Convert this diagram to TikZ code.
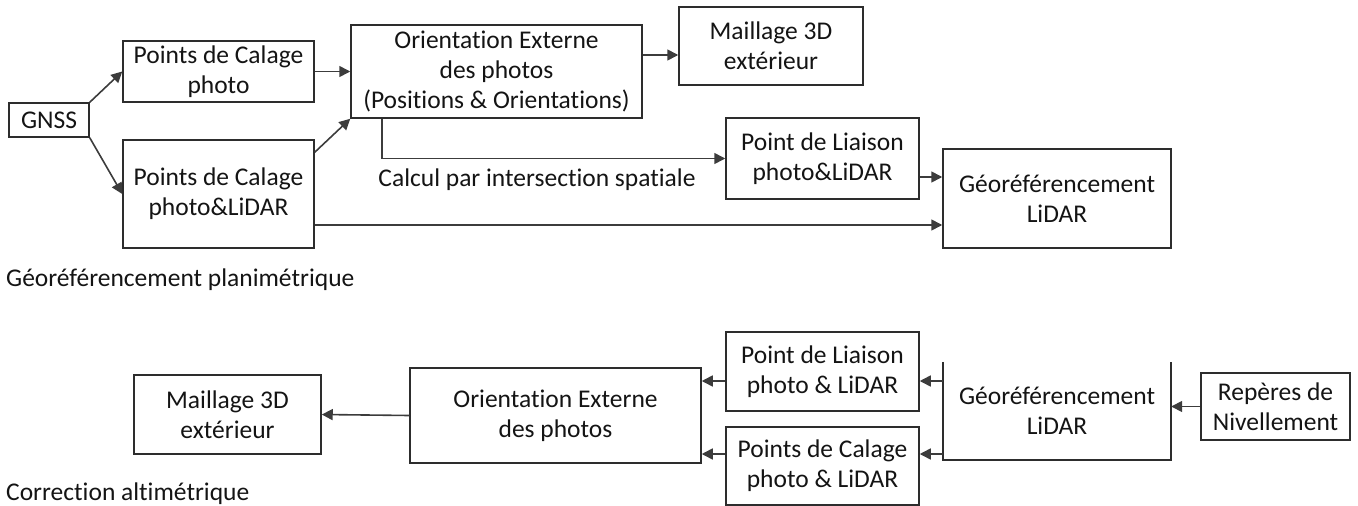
\documentclass[tikz,border=0pt]{standalone}
\usepackage{fontspec}
\setmainfont{Carlito}[Ligatures=NoCommon]
\usepackage{tikz}
\usetikzlibrary{arrows.meta}

\begin{document}
\begin{tikzpicture}[x=1pt,y=-1pt,
  box/.style={draw=boxColor,line width=1.5pt,align=center,inner sep=0pt,text=txtColor,font=\fontsize{25.5}{30}\selectfont},
  lbl/.style={inner sep=0pt,text=txtColor,font=\fontsize{25.5}{30}\selectfont},
  lien/.style={draw=lineColor,line width=1.6pt,-{Triangle[length=11pt,width=11pt]}}]
\definecolor{boxColor}{RGB}{45,45,45}
\definecolor{lineColor}{RGB}{60,60,60}
\definecolor{txtColor}{RGB}{20,20,20}
\useasboundingbox (0,0) rectangle (1358,506);
% georeferencement planimetrique
\node[box,minimum width=80pt,minimum height=34pt] (gnss) at (49,120) {GNSS};
\node[box,minimum width=191pt,minimum height=61pt] (calagePhoto) at (218.5,71.5) {Points de Calage\\photo};
\node[box,minimum width=191pt,minimum height=108pt] (calageLidar) at (218.5,194) {Points de Calage\\photo\&LiDAR};
\node[box,minimum width=291pt,minimum height=93pt] (orient) at (496.5,71.5) {Orientation Externe\\des photos\\(Positions \& Orientations)};
\node[box,minimum width=184pt,minimum height=78pt] (maillage) at (771,46) {Maillage 3D\\extérieur};
\node[box,minimum width=193pt,minimum height=81pt] (liaison) at (822.5,158.5) {Point de Liaison\\photo\&LiDAR};
\node[box,minimum width=228pt,minimum height=99pt] (georef) at (1057,198.5) {Géoréférencement\\LiDAR};
\node[lbl] (calcul) at (537,180) {Calcul par intersection spatiale};
\node[lbl,anchor=west] (titrePlani) at (6,280) {Géoréférencement planimétrique};
\coordinate (h1) at (0,55);
\coordinate (h2) at (0,177);
\coordinate (h3) at (0,225);
\draw[lien] (gnss.north east) -- (calagePhoto.west);
\draw[lien] (gnss.south east) -- (calageLidar.west);
\draw[lien] (calagePhoto.east) -- (orient.west);
\draw[lien] ([yshift=-13pt]calageLidar.north east) -- (orient.south west);
\draw[lien] (orient.east |- h1) -- (maillage.west |- h1);
\draw[lien] ([xshift=32pt]orient.south west) |- (liaison.west);
\draw[lien] (liaison.east |- h2) -- (georef.west |- h2);
\draw[lien] (calageLidar.east |- h3) -- (georef.west |- h3);
% correction altimetrique
\node[box,minimum width=187pt,minimum height=79pt] (maillageB) at (227.5,414.5) {Maillage 3D\\extérieur};
\node[box,minimum width=291pt,minimum height=95pt] (orientB) at (555.5,415.5) {Orientation Externe\\des photos};
\node[box,minimum width=193pt,minimum height=79pt] (liaisonB) at (822.5,371.5) {Point de Liaison\\photo \& LiDAR};
\node[box,minimum width=193pt,minimum height=78pt] (calageB) at (822.5,466) {Points de Calage\\photo \& LiDAR};
\node[lbl,minimum width=228pt,minimum height=98pt,align=center] (georefB) at (1057,411) {Géoréférencement\\LiDAR};
\draw[boxColor,line width=1.5pt] (georefB.north west) |- (georefB.south east) -- (georefB.north east);
\node[box,minimum width=149pt,minimum height=67pt] (reperes) at (1275.5,406.5) {Repères de\\Nivellement};
\node[lbl,anchor=west] (titreAlti) at (6,494) {Correction altimétrique};
\coordinate (b1) at (0,381);
\coordinate (b2) at (0,454);
\draw[lien] (orientB.west) -- (maillageB.east);
\draw[lien] (liaisonB.west |- b1) -- (orientB.east |- b1);
\draw[lien] (calageB.west |- b2) -- (orientB.east |- b2);
\draw[lien] (georefB.west |- b1) -- (liaisonB.east |- b1);
\draw[lien] (georefB.west |- b2) -- (calageB.east |- b2);
\draw[lien] (reperes.west) -- (reperes.west -| georefB.east);
\end{tikzpicture}
\end{document}
